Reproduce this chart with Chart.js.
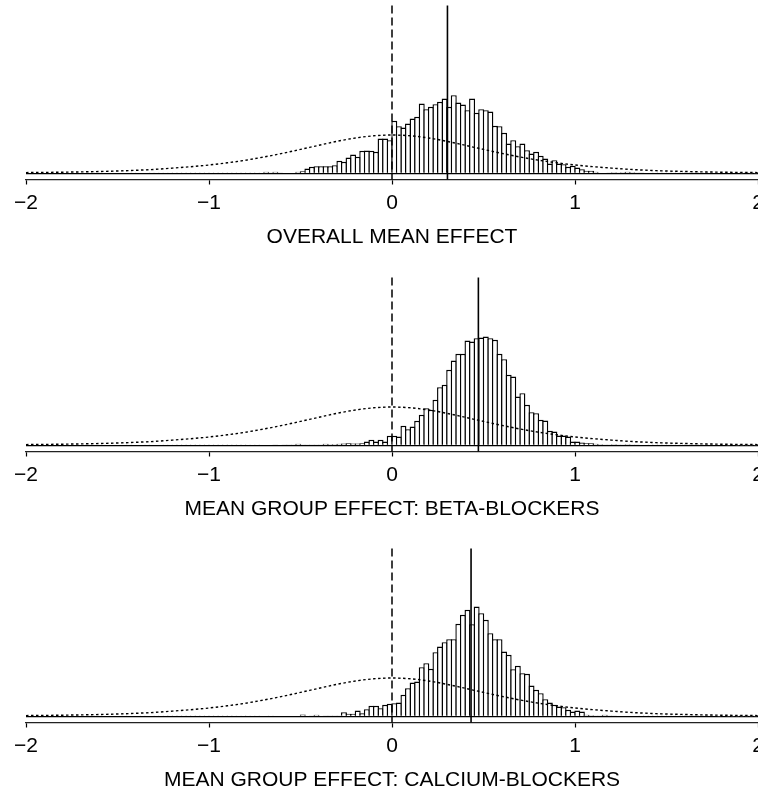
<!DOCTYPE html>
<html>
<head>
<meta charset="utf-8">
<title>Posterior distributions of treatment effects</title>
<script src="https://cdn.jsdelivr.net/npm/chart.js@4/dist/chart.umd.min.js"></script>
<style>
  html, body { margin: 0; padding: 0; background: #fff; overflow: hidden; width: 758px; height: 789px; }
  canvas.panel { position: absolute; left: 0; }
</style>
</head>
<body>
<canvas id="overall" class="panel" width="800" height="272" style="top:0px"></canvas>
<canvas id="beta" class="panel" width="800" height="272" style="top:272px"></canvas>
<canvas id="calcium" class="panel" width="800" height="272" style="top:543px"></canvas>
<script>
// Histogram bins: 160 bins of width 0.025 covering [-2, 2]
const BIN_START = -2;
const BIN_WIDTH = 0.025;
const AXIS_TICKS = [-2, -1, 0, 1, 2];

// Posterior sample frequencies per bin (each row = 10 bins = 0.25 units)
const overallEffect = [
  0,0,0,0,0,0,0,0,0,0,                              // -2.00
  0,0,0,0,0,0.2,0,0,0,0,                            // -1.75
  0,0,0,0.2,0,0,0,0.2,0,0.2,                        // -1.50
  0,0.2,0.3,0.2,0.3,0.2,0.3,0.3,0.2,0.3,            // -1.25
  0.3,0.3,0.4,0.3,0.5,0.3,0.4,0.5,0.6,0.5,          // -1.00
  0.6,0.7,1.7,1.0,1.7,1.0,0.7,0.7,0.7,1.7,          // -0.75
  2.3,5.0,6.7,7.3,7.3,7.3,7.3,8.3,12.7,11.7,        // -0.50
  16.0,19.0,16.7,22.7,23.0,22.7,21.7,35.0,35.0,33.3,// -0.25
  52.7,47.3,46.0,50.0,55.0,56.7,70.0,64.3,66.7,69.3,//  0.00
  71.7,75.0,66.7,78.3,71.0,69.0,63.3,75.0,60.7,64.3,//  0.25
  63.3,62.0,47.7,47.3,40.7,30.0,33.3,27.3,30.0,23.3,//  0.50
  20.0,21.7,17.7,15.0,10.0,13.3,10.0,9.3,6.7,7.7,   //  0.75
  6.0,4.3,2.7,2.7,1.7,0.7,0.7,1.0,1.3,1.0,          //  1.00
  1.3,1.7,1.3,1.0,1.0,0.8,0.7,0.6,0.6,0.5,          //  1.25
  0.5,0.4,0.5,0.4,0.3,0.4,0.3,0.3,0.2,0.3,          //  1.50
  0.2,0.2,0.3,0.2,0.2,0.2,0.1,0.2,0.1,0.1           //  1.75
];

const betaBlockers = [
  0,0,0,0,0,0,0,0,0,0,
  0,0,0,0.2,0,0,0,0,0,0,
  0,0,0.2,0,0,0,0.2,0,0,0,
  0.2,0,0.3,0.2,0.2,0.3,0.2,0.3,0.3,0.4,
  0.4,0.3,0.5,0.4,0.5,0.4,0.5,0.6,0.5,0.7,
  0.6,0.7,0.8,0.7,0.9,0.8,1.0,0.9,1.0,1.7,
  1.0,1.0,1.0,1.0,1.0,1.7,1.3,1.3,1.7,2.0,
  2.3,2.0,2.0,2.3,4.0,5.7,4.0,5.7,4.0,9.7,
  9.7,9.0,19.7,16.3,19.0,24.7,30.7,37.3,35.7,45.7,
  58.3,60.7,75.7,85.0,91.7,91.7,105.0,104.0,107.3,108.0,
  109.0,107.3,105.7,91.7,86.3,70.7,69.0,49.0,52.3,40.7,
  33.3,32.3,25.7,25.0,14.7,14.0,10.0,10.0,9.0,4.0,
  4.0,3.0,2.3,2.3,1.7,1.3,1.0,1.0,1.3,1.0,
  1.0,1.3,1.0,1.0,0.8,0.7,0.6,0.6,0.5,0.5,
  0.4,0.4,0.3,0.4,0.3,0.3,0.3,0.2,0.3,0.2,
  0.2,0.2,0.2,0.1,0.2,0.1,0.1,0.1,0.1,0.1
];

const calciumBlockers = [
  0,0,0,0,0,0,0,0,0,0,
  0,0,0,0,0.2,0,0,0,0,0,
  0,0.2,0,0,0,0.2,0,0,0.2,0,
  0.3,0.2,0.3,0.2,0.3,0.3,0.2,0.4,0.3,0.3,
  0.4,0.5,0.4,0.6,0.4,0.5,0.7,0.5,0.6,0.7,
  0.6,0.7,0.8,0.6,0.7,0.7,0.8,0.7,0.8,0.7,
  2.0,0.8,0.9,1.7,0.8,1.0,1.0,1.0,1.0,4.3,
  2.7,2.7,6.0,3.3,7.3,10.7,10.7,8.3,11.7,12.7,
  13.3,14.0,21.7,28.3,34.0,35.0,49.3,53.3,47.7,64.3,
  70.0,74.3,77.3,77.3,92.7,101.7,106.7,92.3,110.0,103.3,
  96.7,83.3,77.3,77.3,65.0,61.7,47.3,50.7,43.3,42.7,
  31.0,26.7,23.3,17.3,14.0,11.7,10.0,9.3,6.7,5.0,
  6.0,5.0,1.7,1.3,1.0,1.0,1.7,1.0,1.0,0.8,
  0.8,0.7,0.8,0.7,0.6,0.6,0.5,0.5,0.4,0.4,
  0.4,0.3,0.3,0.3,0.3,0.2,0.3,0.2,0.2,0.2,
  0.2,0.1,0.2,0.1,0.1,0.1,0.1,0.1,0.1,0.1
];

// Prior density (same scale as the histograms), sampled every 0.1 from -2 to 2
const priorDensity = [
  0.9,1.1,1.3,1.6,2.0,2.5,3.2,4.1,5.4,6.8,
  8.5,10.7,13.3,16.5,20.1,24.1,28.2,32.2,35.5,37.7,
  38.5,
  37.7,35.5,32.2,28.2,24.1,20.1,16.5,13.3,10.7,8.5,
  6.8,5.4,4.1,3.2,2.5,2.0,1.6,1.3,1.1,0.9
];
const PRIOR_STEP = 0.1;

// Posterior means (solid line) and the null effect (dashed line)
const posteriorMeans = { overall: 0.303, beta: 0.472, calcium: 0.432 };
const NULL_EFFECT = 0;

const panelTitles = {
  overall: 'OVERALL MEAN EFFECT',
  beta: 'MEAN GROUP EFFECT: BETA-BLOCKERS',
  calcium: 'MEAN GROUP EFFECT: CALCIUM-BLOCKERS'
};

const FONT = "'Liberation Sans', Arial, Helvetica, sans-serif";

// Vertical reference lines spanning the plotting region
const referenceLines = {
  id: 'referenceLines',
  afterDatasetsDraw(chart, args, opts) {
    const { ctx, chartArea, scales } = chart;
    const x = scales.x;
    ctx.save();
    ctx.strokeStyle = '#000';
    // null effect: dashed
    let px = x.getPixelForValue(opts.zero);
    ctx.lineWidth = 1.5;
    ctx.setLineDash([8, 4]);
    ctx.beginPath();
    ctx.moveTo(px, chartArea.top);
    ctx.lineTo(px, chartArea.bottom);
    ctx.stroke();
    // posterior mean: solid
    px = x.getPixelForValue(opts.mean);
    ctx.lineWidth = 1.6;
    ctx.setLineDash([]);
    ctx.beginPath();
    ctx.moveTo(px, chartArea.top);
    ctx.lineTo(px, chartArea.bottom);
    ctx.stroke();
    ctx.restore();
  }
};

function drawPanel(key, counts) {
  const bars = counts.map((v, i) => ({ x: BIN_START + BIN_WIDTH * (i + 0.5), y: v }));
  const prior = priorDensity.map((v, i) => ({ x: BIN_START + PRIOR_STEP * i, y: v }));

  new Chart(document.getElementById(key), {
    type: 'bar',
    data: {
      datasets: [
        {
          type: 'line',
          data: prior,
          borderColor: '#000',
          borderWidth: 1.4,
          borderDash: [2.5, 2.5],
          pointRadius: 0,
          cubicInterpolationMode: 'monotone',
          fill: false,
          order: 0
        },
        {
          type: 'bar',
          data: bars,
          backgroundColor: '#fff',
          borderColor: '#000',
          borderWidth: 1.4,
          // widen slightly so neighbouring outlines share one line
          barPercentage: 1.306,
          categoryPercentage: 1,
          grouped: false,
          order: 1
        }
      ]
    },
    options: {
      responsive: false,
      animation: false,
      devicePixelRatio: 1,
      events: [],
      layout: { padding: { left: 26, right: 42, top: 5.5, bottom: 0 } },
      plugins: {
        legend: { display: false },
        tooltip: { enabled: false },
        referenceLines: { zero: NULL_EFFECT, mean: posteriorMeans[key] }
      },
      scales: {
        x: {
          type: 'linear',
          min: -2,
          max: 2,
          offset: false,
          afterBuildTicks(s) { s.ticks = AXIS_TICKS.map(v => ({ value: v })); },
          afterFit(s) { s.height = 92.5; },
          ticks: {
            autoSkip: false,
            maxRotation: 0,
            padding: 6.4,
            color: '#000',
            font: { family: FONT, size: 21 },
            callback: v => (v < 0 ? '\u2212' + Math.abs(v) : String(v))
          },
          grid: {
            drawOnChartArea: false,
            drawTicks: true,
            tickLength: 5,
            tickWidth: 1.2,
            tickColor: '#000',
            offset: false
          },
          border: { display: true, color: '#222', width: 1.3 },
          title: {
            display: true,
            text: panelTitles[key],
            color: '#000',
            font: { family: FONT, size: 21 },
            padding: { top: 0, bottom: 22.5 }
          }
        },
        y: {
          type: 'linear',
          min: -6,
          max: 168,
          afterBuildTicks(s) { s.ticks = [{ value: 0 }]; },
          afterFit(s) { s.width = 0; },
          ticks: { display: false },
          grid: { drawTicks: false, color: '#000', lineWidth: 1.3 },
          border: { display: false }
        }
      }
    },
    plugins: [referenceLines]
  });
}

drawPanel('overall', overallEffect);
drawPanel('beta', betaBlockers);
drawPanel('calcium', calciumBlockers);
</script>
</body>
</html>
